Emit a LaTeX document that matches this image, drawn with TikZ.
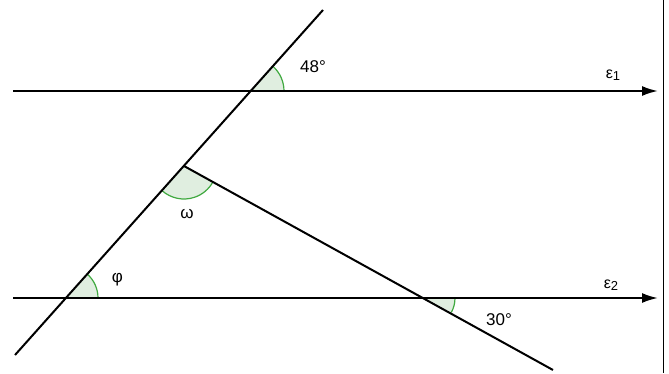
\documentclass[tikz,border=0pt]{standalone}
\usepackage{fontspec}
\setmainfont{Liberation Sans}
\usetikzlibrary{arrows.meta}
\begin{document}
\begin{tikzpicture}[x=1pt,y=1pt,
  ln/.style={line width=2pt,black},
  par/.style={ln,-{Latex[length=16pt,width=10pt]}},
  angfill/.style={fill=green!45!black!12!white},
  angarc/.style={draw=green!55!black!75!white,line width=1.2pt},
  lbl/.style={inner sep=0pt,font=\fontsize{17}{20}\selectfont},
  elbl/.style={inner sep=0pt,font=\fontsize{16}{18}\selectfont}]
\useasboundingbox (0,0) rectangle (669,373);
% key points
\coordinate (A) at (251,282);
\coordinate (B) at (66,75);
\coordinate (W) at (184,207);
\coordinate (C) at (425,75);
\coordinate (Ttop) at (323,363);
\coordinate (Tbot) at (15,18);
\coordinate (Lend) at (553,3);
\coordinate (e1s) at (13,282);
\coordinate (e1e) at (658,282);
\coordinate (e2s) at (13,75);
\coordinate (e2e) at (658,75);
\coordinate (bt) at (663.5,373);
\coordinate (bb) at (663.5,0);
% angle fills
\fill[angfill] (A) -- ++(0:33) arc[start angle=0,end angle=48.2,radius=33] -- cycle;
\fill[angfill] (B) -- ++(0:32) arc[start angle=0,end angle=48.2,radius=32] -- cycle;
\fill[angfill] (W) -- ++(228.2:33) arc[start angle=228.2,end angle=331.3,radius=33] -- cycle;
\fill[angfill] (C) -- ++(-28.7:30) arc[start angle=-28.7,end angle=0,radius=30] -- cycle;
% angle arcs
\draw[angarc] (A) ++(0:33) arc[start angle=0,end angle=48.2,radius=33];
\draw[angarc] (B) ++(0:32) arc[start angle=0,end angle=48.2,radius=32];
\draw[angarc] (W) ++(228.2:33) arc[start angle=228.2,end angle=331.3,radius=33];
\draw[angarc] (C) ++(-28.7:30) arc[start angle=-28.7,end angle=0,radius=30];
% lines
\draw[par] (e1s) -- (e1e);
\draw[par] (e2s) -- (e2e);
\draw[ln] (Tbot) -- (Ttop);
\draw[ln] (W) -- (Lend);
\draw[line width=1.8pt] (bt) -- (bb);
% labels
\node[lbl] (l48) at (313,306) {48°};
\node[lbl] (l30) at (499,53) {30°};
\node[lbl] (lw) at (187,159) {ω};
\node[lbl] (lf) at (117.5,93) {φ};
\node[elbl] (le1) at (613,298) {ε\raisebox{-2pt}{\fontsize{13}{14}\selectfont 1}};
\node[elbl] (le2) at (611,88) {ε\raisebox{-2pt}{\fontsize{13}{14}\selectfont 2}};
\end{tikzpicture}
\end{document}
